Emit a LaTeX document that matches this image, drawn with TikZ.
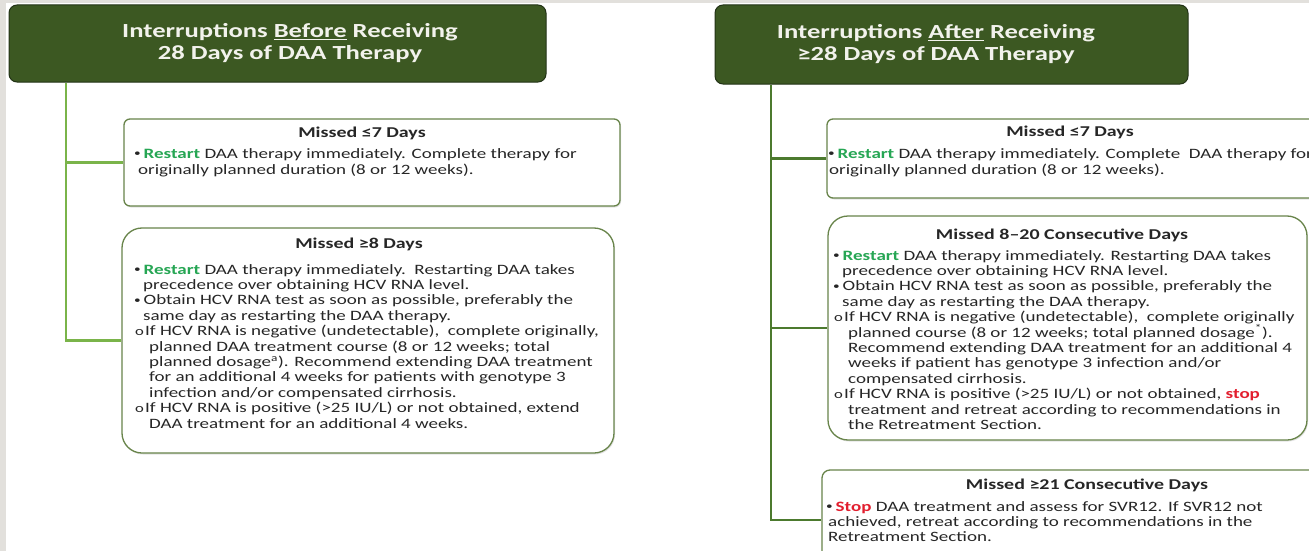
\documentclass[tikz,border=0pt]{standalone}
\usepackage{fontspec}
\setmainfont{Carlito}[FakeStretch=1.33]
\usetikzlibrary{shadows}

\definecolor{hdrfill}{RGB}{60,88,34}
\definecolor{hdrline}{RGB}{34,50,22}
\definecolor{hdrtext}{RGB}{242,242,236}
\definecolor{spinelight}{RGB}{122,180,74}
\definecolor{spinedark}{RGB}{76,122,46}
\definecolor{boxline}{RGB}{104,132,74}
\definecolor{bodytext}{RGB}{38,38,38}
\definecolor{gogreen}{RGB}{38,166,84}
\definecolor{stopred}{RGB}{226,30,46}
\definecolor{edgegray}{RGB}{226,224,220}

\newcommand{\go}{\textcolor{gogreen}{\textbf{Restart}}}
\newcommand{\halt}[1]{\textcolor{stopred}{\textbf{#1}}}
\newcommand{\bul}{\makebox[9.5pt][l]{\raisebox{1.8pt}{\fontsize{10}{10}\selectfont •}}}
\newcommand{\subbul}{\hspace*{1pt}\makebox[10pt][l]{\fontsize{12.5}{12.5}\selectfont o}}
\newcommand{\cont}{\hspace*{9pt}}
\newcommand{\subcont}{\hspace*{15pt}}

\tikzset{
  header/.style={draw=hdrline, fill=hdrfill, line width=1pt, rounded corners=8pt, inner sep=0pt},
  hdrlabel/.style={text=hdrtext, align=center, inner sep=0pt,
    font=\bfseries\fontsize{20}{22}\selectfont},
  missbox/.style={draw=boxline, fill=white, line width=1.3pt, inner sep=0pt,
    drop shadow={opacity=0.22, shadow xshift=1pt, shadow yshift=-1.5pt}},
  boxtitle/.style={text=bodytext, inner sep=0pt, font=\bfseries\fontsize{15}{16}\selectfont},
  boxtext/.style={text=bodytext, align=left, inner sep=0pt, anchor=north west,
    font=\fontsize{14.3}{15.4}\selectfont},
  spineL/.style={draw=spinelight, line width=2.2pt},
  spineR/.style={draw=spinedark, line width=2.2pt}
}

\begin{document}
\begin{tikzpicture}[x=1pt,y=-1pt]
    \useasboundingbox (0,0) rectangle (1309,551);
    \fill[white] (0,0) rectangle (1309,551);
    \fill[edgegray] (0,0) rectangle (6,551);
    \fill[edgegray] (0,0) rectangle (1309,3);

    \coordinate (axL) at (66,0);
    \coordinate (axR) at (771,0);

    \node[header, minimum width=537, minimum height=77] (hdrL) at (277.5,43.5) {};
    \node[hdrlabel] (lblL) at (290,43.5)
        {Interruptions \underline{Before} Receiving\\28 Days of DAA Therapy};
    \node[header, minimum width=473, minimum height=79] (hdrR) at (951.5,44.5) {};
    \node[hdrlabel] (lblR) at (936,44.5)
        {Interruptions \underline{After} Receiving\\≥28 Days of DAA Therapy};

    \node[missbox, rounded corners=6pt, minimum width=496, minimum height=87] (bL1) at (372,162.5) {};
    \node[missbox, rounded corners=20pt, minimum width=492, minimum height=225] (bL2) at (368,340.5) {};
    \node[missbox, rounded corners=6pt, minimum width=500, minimum height=79] (bR1) at (1077,158.5) {};
    \node[missbox, rounded corners=20pt, minimum width=479, minimum height=224] (bR2) at (1067.5,328) {};
    \node[missbox, rounded corners=8pt, minimum width=508, minimum height=100] (bR3) at (1076,520) {};

    \draw[spineL] (hdrL.south -| axL) -- (bL2.west -| axL) -- (bL2.west);
    \draw[spineL] (bL1.west -| axL) -- (bL1.west);
    \draw[spineR] (hdrR.south -| axR) -- (bR3.west -| axR) -- (bR3.west);
    \draw[spineR] (bR1.west -| axR) -- (bR1.west);
    \draw[spineR] (bR2.west -| axR) -- (bR2.west);

    \node[boxtitle] (tL1) at (362,133) {Missed ≤7 Days};
    \node[boxtext] (xL1) at (134,148)
        {\bul\go{} DAA therapy immediately. Complete therapy for\\[0.6pt]
         \hspace*{4pt}originally planned duration (8 or 12 weeks).};

    \node[boxtitle] (tL2) at (359,244) {Missed ≥8 Days};
    \node[boxtext] (xL2) at (134,264)
        {\bul\go{} DAA therapy immediately.\ \ Restarting DAA takes\\
         \cont precedence over obtaining HCV RNA level.\\
         \bul Obtain HCV RNA test as soon as possible, preferably the\\
         \cont same day as restarting the DAA therapy.\\
         \subbul If HCV RNA is negative (undetectable),\ \ complete originally,\\
         \subcont planned DAA treatment course (8 or 12 weeks; total\\
         \subcont planned dosage\textsuperscript{a}). Recommend extending DAA treatment\\
         \subcont for an additional 4 weeks for patients with genotype 3\\
         \subcont infection and/or compensated cirrhosis.\\
         \subbul If HCV RNA is positive (>25 IU/L) or not obtained, extend\\
         \subcont DAA treatment for an additional 4 weeks.};

    \node[boxtitle] (tR1) at (1070,132) {Missed ≤7 Days};
    \node[boxtext] (xR1) at (828,148)
        {\bul\go{} DAA therapy immediately. Complete\ \ DAA therapy for\\[0.6pt]
         \hspace*{1pt}originally planned duration (8 or 12 weeks).};

    \node[boxtitle] (tR2) at (1062,235) {Missed 8–20 Consecutive Days};
    \node[boxtext] (xR2) at (833,250)
        {\bul\go{} DAA therapy immediately. Restarting DAA takes\\
         \cont precedence over obtaining HCV RNA level.\\
         \bul Obtain HCV RNA test as soon as possible, preferably the\\
         \cont same day as restarting the DAA therapy.\\
         \subbul If HCV RNA is negative (undetectable),\ \ complete originally\\
         \subcont planned course (8 or 12 weeks; total planned dosage\textsuperscript{*}).\\
         \subcont Recommend extending DAA treatment for an additional 4\\
         \subcont weeks if patient has genotype 3 infection and/or\\
         \subcont compensated cirrhosis.\\
         \subbul If HCV RNA is positive (>25 IU/L) or not obtained, \halt{stop}\\
         \subcont treatment and retreat according to recommendations in\\
         \subcont the Retreatment Section.};

    \node[boxtitle] (tR3) at (1087,485) {Missed ≥21 Consecutive Days};
    \node[boxtext] (xR3) at (826,501)
        {\bul\halt{Stop} DAA treatment and assess for SVR12. If SVR12 not\\
         \hspace*{2pt}achieved, retreat according to recommendations in the\\
         \hspace*{2pt}Retreatment Section.};
\end{tikzpicture}
\end{document}
